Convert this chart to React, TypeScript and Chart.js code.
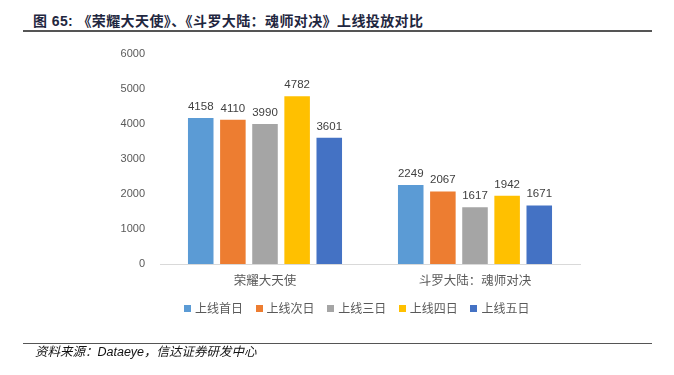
import React, { useEffect, useRef } from "react";
import { Chart, registerables } from "chart.js";

Chart.register(...registerables);

const categories = ["荣耀大天使", "斗罗大陆：魂师对决"];
const seriesNames = ["上线首日", "上线次日", "上线三日", "上线四日", "上线五日"];
const seriesColors = ["#5B9BD5", "#ED7D31", "#A5A5A5", "#FFC000", "#4472C4"];
const day1 = [4158, 2249];
const day2 = [4110, 2067];
const day3 = [3990, 1617];
const day4 = [4782, 1942];
const day5 = [3601, 1671];
const yTicks = [0, 1000, 2000, 3000, 4000, 5000, 6000];

const seriesValues = [day1, day2, day3, day4, day5];

const dataLabelPlugin = {
  id: "dataLabels",
  afterDatasetsDraw(chart: any) {
    const ctx = chart.ctx;
    ctx.save();
    ctx.font = "11.5px 'Liberation Sans', Arial, sans-serif";
    ctx.fillStyle = "#404040";
    ctx.textAlign = "center";
    ctx.textBaseline = "alphabetic";
    chart.data.datasets.forEach((ds: any, i: number) => {
      const meta = chart.getDatasetMeta(i);
      meta.data.forEach((el: any, j: number) => {
        ctx.fillText(String(ds.data[j]), el.x, el.y - 8);
      });
    });
    ctx.restore();
  },
};

export default function App() {
  const ref = useRef<HTMLCanvasElement>(null);
  useEffect(() => {
    if (!ref.current) return;
    const chart = new Chart(ref.current, {
      type: "bar",
      data: {
        labels: categories,
        datasets: seriesNames.map((name, i) => ({
          label: name,
          data: seriesValues[i],
          backgroundColor: seriesColors[i],
          categoryPercentage: 0.765,
          barPercentage: 0.795,
        })),
      },
      options: {
        animation: false,
        responsive: false,
        maintainAspectRatio: false,
        layout: { padding: { left: 0, right: 94, top: 53.5, bottom: 81 } },
        plugins: { legend: { display: false }, tooltip: { enabled: false } },
        scales: {
          x: {
            grid: { display: false, drawTicks: false },
            border: { display: true, color: "#D9D9D9", width: 1 },
            ticks: {
              color: "#595959",
              font: { size: 12.5, family: "'Noto Sans CJK SC', sans-serif" },
              padding: 9,
            },
            afterFit: (s: any) => {
              s.height = 30;
            },
          },
          y: {
            min: 0,
            max: 6000,
            afterBuildTicks: (s: any) => {
              s.ticks = yTicks.map((v) => ({ value: v }));
            },
            grid: { display: false, drawTicks: false },
            border: { display: false },
            ticks: {
              color: "#595959",
              font: { size: 11, family: "'Liberation Sans', Arial, sans-serif" },
              padding: 15,
              callback: (v: any) => String(v),
            },
            afterFit: (s: any) => {
              s.width = 160;
            },
          },
        },
      },
      plugins: [dataLabelPlugin],
    });
    return () => chart.destroy();
  }, []);

  return (
    <div style={{ position: "fixed", left: 0, top: 0, width: 674, height: 375, background: "#fff" }}>
      <div
        style={{
          position: "absolute",
          left: 33,
          top: 11,
          fontSize: 14,
          fontWeight: "bold",
          color: "#1F2740",
          fontFamily: "'Liberation Sans', 'Noto Sans CJK SC', sans-serif",
          whiteSpace: "nowrap",
          lineHeight: "20px",
          letterSpacing: "0.4px",
        }}
      >
        图 65: 《荣耀大天使》、《斗罗大陆：魂师对决》上线投放对比
      </div>
      <div style={{ position: "absolute", left: 23, top: 30, width: 629, height: 1.5, background: "#555" }} />
      <canvas ref={ref} width={674} height={375} style={{ position: "absolute", left: 0, top: 0 }} />
      <div
        style={{
          position: "absolute",
          left: 0,
          top: 300,
          width: 674,
          display: "flex",
          justifyContent: "flex-start",
          paddingLeft: 184,
          boxSizing: "border-box",
          fontSize: 12,
          color: "#595959",
          fontFamily: "'Noto Sans CJK SC', sans-serif",
          lineHeight: "16px",
        }}
      >
        {seriesNames.map((n, i) => (
          <div key={n} style={{ display: "flex", alignItems: "center", width: 71.6 }}>
            <span style={{ display: "inline-block", width: 7, height: 7, background: seriesColors[i], marginRight: 4 }} />
            <span>{n}</span>
          </div>
        ))}
      </div>
      <div style={{ position: "absolute", left: 23, top: 342.5, width: 629, height: 1.5, background: "#555" }} />
      <div
        style={{
          position: "absolute",
          left: 35,
          top: 344,
          fontSize: 12.5,
          fontStyle: "italic",
          color: "#111",
          fontFamily: "'Liberation Sans', 'Noto Sans CJK SC', sans-serif",
          whiteSpace: "nowrap",
          lineHeight: "16px",
        }}
      >
        资料来源：Dataeye，信达证券研发中心
      </div>
    </div>
  );
}
